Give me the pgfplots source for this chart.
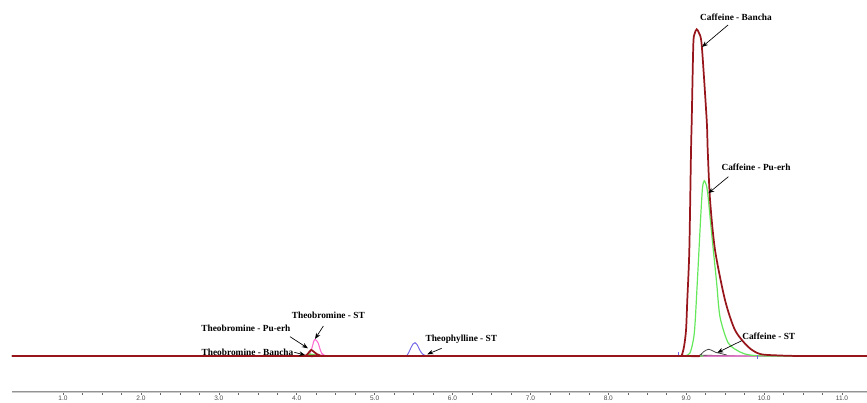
\documentclass[border=0pt]{standalone}
\usepackage{fontspec}
\setmainfont{Liberation Serif}
\newfontfamily\tickfont{Liberation Sans}
\usepackage{pgfplots}
\pgfplotsset{compat=1.18}
\usepackage{pgfplotstable}
\usetikzlibrary{arrows.meta}
\definecolor{cred}{RGB}{150,22,28}
\definecolor{cgreen}{RGB}{100,232,90}
\definecolor{cpink}{RGB}{255,110,210}
\definecolor{cblue}{RGB}{110,100,230}
\definecolor{cgray}{RGB}{70,70,70}

\pgfplotstableread{
x y
0.345 0
4.042 0
4.107 0
4.145 2.5
4.184 6
4.216 4.5
4.257 2
4.299 0.5
4.350 0
8.920 0
8.942 0.5
8.972 9.3
8.998 26
9.014 56
9.040 106
9.062 206
9.071 236
9.091 311
9.107 322
9.135 326.7
9.164 323
9.199 311
9.263 236
9.276 206
9.306 156
9.370 106
9.498 56
9.626 26
9.793 9.3
9.947 2
10.204 0.5
10.500 0
11.321 0
}\redtab

\pgfplotstableread{
x y
0.345 0
4.080 0
4.130 0.8
4.171 2
4.215 1.5
4.261 0.5
4.325 0
8.960 0
8.985 0.3
9.049 3
9.104 23
9.142 73
9.186 139
9.209 168
9.232 175.3
9.261 170
9.280 160
9.306 139
9.348 106
9.391 73
9.434 39
9.540 13
9.691 4
9.819 1
10.076 0
11.321 0
}\greentab

\pgfplotstableread{
x y
0.345 0
4.042 0
4.132 0
4.171 3
4.200 9.3
4.220 15
4.235 16.7
4.254 15.5
4.277 12.7
4.299 7
4.321 2.7
4.350 1
4.402 0
11.321 0
}\pinktab

\pgfplotstableread{
x y
0.345 0
5.326 0
5.412 0.3
5.435 3
5.463 7.7
5.493 12
5.519 13.3
5.544 11.5
5.583 5.5
5.615 2
5.660 0.3
5.737 0
11.321 0
}\bluetab

\pgfplotstableread{
x y
0.345 0
9.113 0
9.177 1
9.228 4.5
9.284 6.7
9.331 5.5
9.383 3.5
9.434 2.7
9.511 1.2
9.626 0
11.321 0
}\graytab

\begin{document}
\begin{tikzpicture}
\useasboundingbox (0,0) rectangle (650.25pt,302.25pt);
\begin{axis}[
  at={(9pt,8.25pt)}, anchor=south west,
  scale only axis, width=641.25pt, height=294pt,
  xmin=0.345, xmax=11.321, ymin=-36, ymax=356,
  axis y line=none, axis x line=bottom,
  x axis line style={draw=gray!85, line width=0.5pt, double=gray!40, double distance=0.6pt, -},
  xtick={1,2,...,11}, minor x tick num=3,
  tick align=outside,
  major tick length=2pt, minor tick length=2pt,
  every tick/.style={gray!80!black, line width=0.4pt},
  xticklabel style={font=\tickfont\fontsize{4.9}{5.5}\selectfont, text=gray!60!black, inner sep=0.8pt},
  /pgf/number format/.cd, fixed, fixed zerofill, precision=1, assume math mode=true,
  /pgfplots/.cd,
  clip=false,
  every axis plot/.append style={smooth, tension=0.45},
]
\addplot[cblue, line width=0.7pt] table[x=x,y=y]{\bluetab};
\addplot[cgray, line width=0.6pt] table[x=x,y=y]{\graytab};
\addplot[cpink, line width=0.8pt] table[x=x,y=y]{\pinktab};
\addplot[cgreen, line width=0.9pt] table[x=x,y=y]{\greentab};
\addplot[cblue, line width=0.6pt, sharp plot] coordinates {(8.895,0) (8.895,4)};
\addplot[cblue, line width=0.6pt, sharp plot] coordinates {(9.909,-3) (9.909,1)};
\addplot[cred, line width=1.3pt] table[x=x,y=y]{\redtab};

\tikzset{lab/.style={font=\bfseries\fontsize{7}{8}\selectfont, inner sep=0pt}, arr/.style={-{Stealth[length=4.5pt,width=3.5pt]}, line width=0.5pt, black}}
\node[lab] at (axis cs:9.639,339) {Caffeine - Bancha};
\draw[arr] (axis cs:9.537,331) -- (axis cs:9.203,309);
\node[lab] at (axis cs:9.896,189) {Caffeine - Pu-erh};
\draw[arr] (axis cs:9.541,179.3) -- (axis cs:9.284,162.7);
\node[lab] at (axis cs:10.06,19.3) {Caffeine - ST};
\draw[arr] (axis cs:9.712,15.3) -- (axis cs:9.399,3.3);
\node[lab] at (axis cs:4.406,41) {Theobromine - ST};
\draw[arr] (axis cs:4.342,30) -- (axis cs:4.235,17);
\node[lab] at (axis cs:3.347,27.7) {Theobromine - Pu-erh};
\draw[arr] (axis cs:3.914,19.3) -- (axis cs:4.144,7.7);
\node[lab] at (axis cs:3.368,3.7) {Theobromine - Bancha};
\draw[arr] (axis cs:3.969,3.7) -- (axis cs:4.107,1);
\node[lab] at (axis cs:6.113,16.7) {Theophylline - ST};
\draw[arr] (axis cs:5.861,7.7) -- (axis cs:5.677,1.7);
\end{axis}
\end{tikzpicture}
\end{document}
